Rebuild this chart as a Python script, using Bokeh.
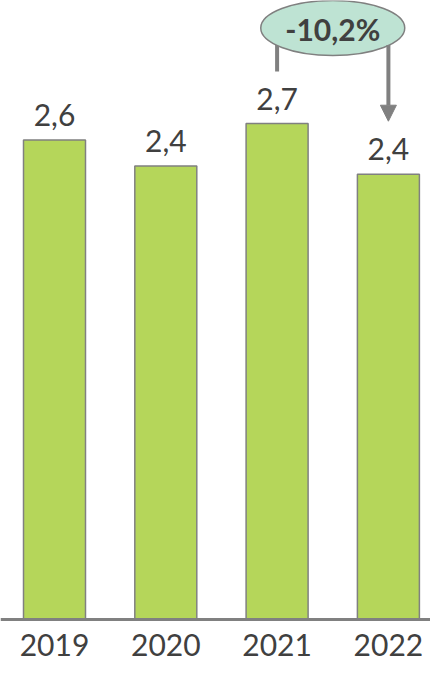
from bokeh.plotting import figure
from bokeh.models import Range1d, Span, Arrow, NormalHead, ColumnDataSource
from bokeh.core.properties import value
from bokeh.embed import file_html
from bokeh.resources import INLINE

years = [2019, 2020, 2021, 2022]
year_labels = ["2019", "2020", "2021", "2022"]
values = [2.60, 2.46, 2.69, 2.415]
value_labels = ["2,6", "2,4", "2,7", "2,4"]
change_label = "-10,2%"

BAR = "#b5d65a"
GRAY = "#808080"
TXT = "#404040"
MINT = "#bee3d3"
FONT = "Lato"
SHIFT = 12   # svg alphabetic baseline compensation

W, H = 430, 662
px_x = 111.3          # pixels per year
AXIS_Y = 619          # frame pixel of the baseline
px_y = (AXIS_Y - 123) / 2.69
x0 = years[0] - 54 / px_x
y_top = AXIS_Y / px_y

p = figure(width=W, height=H, output_backend="svg", toolbar_location=None,
           x_range=Range1d(x0, x0 + W / px_x),
           y_range=Range1d(y_top - H / px_y, y_top),
           min_border=0)
p.axis.visible = False
p.grid.visible = False
p.outline_line_color = None
p.background_fill_color = "white"

src = ColumnDataSource(dict(x=years, top=values, vl=value_labels, yl=year_labels,
                            zero=[0] * len(years)))

p.vbar(x="x", top="top", bottom=0, width=62 / px_x, source=src,
       fill_color=BAR, line_color=GRAY, line_width=1.5)

p.add_layout(Span(location=0, dimension="width", line_color=GRAY, line_width=3))

p.text(x="x", y="top", text="vl", source=src, y_offset=-13 - SHIFT,
       text_align="center", text_baseline="alphabetic",
       text_font=value(FONT), text_font_size="30px", text_color=TXT)

p.text(x="x", y="zero", text="yl", source=src, y_offset=37 - SHIFT,
       text_align="center", text_baseline="alphabetic",
       text_font=value(FONT), text_font_size="30px", text_color=TXT)

# change annotation between 2021 and 2022
xa, xb = years[2], years[3]
ya, yb = values[2], values[3]
y_ell = y_top - 27.5 / px_y
y_line_top = y_ell - 17 / px_y

p.segment(x0=[xa], y0=[y_line_top], x1=[xa], y1=[ya + 52 / px_y],
          line_color=GRAY, line_width=4)
p.add_layout(Arrow(x_start=xb, y_start=y_line_top, x_end=xb, y_end=yb + 53 / px_y,
                   line_color=GRAY, line_width=4,
                   end=NormalHead(size=16, fill_color=GRAY, line_color=GRAY, line_width=1)))

xm = (xa + xb) / 2
p.ellipse(x=[xm], y=[y_ell], width=144, height=55, width_units="screen",
          height_units="screen", fill_color=MINT, line_color=GRAY, line_width=1.5)
p.text(x=[xm], y=[y_ell], text=[change_label], y_offset=13 - SHIFT,
       text_align="center", text_baseline="alphabetic",
       text_font=value(FONT), text_font_size="30px", text_font_style="bold",
       text_color=TXT)

open("out.html", "w").write(file_html(p, INLINE))
